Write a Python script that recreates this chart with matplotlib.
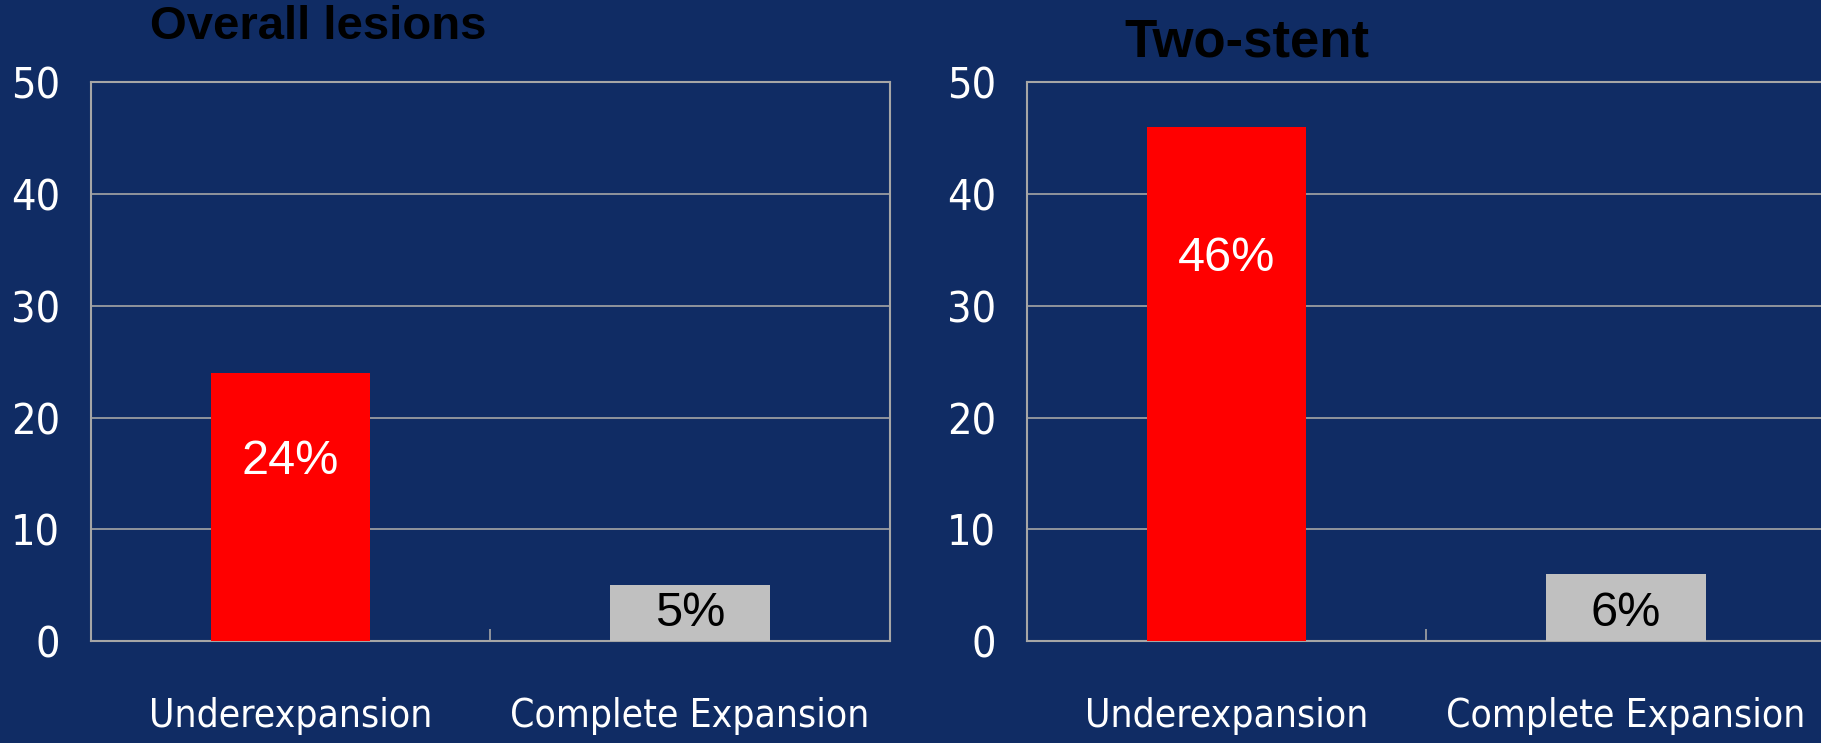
import matplotlib
matplotlib.use('Agg')
import matplotlib.pyplot as plt

# Data
categories = ['Underexpansion', 'Complete Expansion']
overall = [24, 5]
two_stent = [46, 6]
titles = ['Overall lesions', 'Two-stent']
yticks = [0, 10, 20, 30, 40, 50]

bg = '#102C64'
grid_col = '#A6A6A6'
regular = ['Liberation Sans', 'DejaVu Sans']

fig = plt.figure(figsize=(18.21, 7.43), dpi=100, facecolor=bg)

# (values, title, axes rect, label height fraction, title pos, title size)
panels = [
    (overall, titles[0], [0.0498, 0.1373, 0.4388, 0.7517], 0.67, (0.1749, 0.964), 34),
    (two_stent, titles[1], [0.5638, 0.1373, 0.4388, 0.7517], 0.745, (0.6845, 0.943), 38),
]

for vals, title, pos, frac, tpos, tsize in panels:
    ax = fig.add_axes(pos)
    ax.set_facecolor(bg)
    x = list(range(len(categories)))
    ax.bar(x, vals, width=0.4, color=['#FF0000', '#C0C0C0'], zorder=3)

    ax.set_ylim(0, 50)
    ax.set_xlim(-0.5, 1.5)
    ax.set_yticks(yticks)
    ax.set_yticklabels([str(t) for t in yticks], family='DejaVu Sans', stretch='condensed',
                       fontsize=31, color='white')
    ax.tick_params(axis='y', length=0, pad=22)
    ax.yaxis.grid(True, color=grid_col, linewidth=1.2, zorder=1)

    ax.set_xticks(x)
    ax.set_xticklabels(categories, family='DejaVu Sans', stretch='condensed',
                       fontsize=28, color='white')
    ax.tick_params(axis='x', which='major', length=0, pad=40)
    ax.set_xticks([-0.5, 0.5, 1.5], minor=True)
    ax.tick_params(axis='x', which='minor', direction='in', length=9, color=grid_col, width=1.2)

    for s in ax.spines.values():
        s.set_color(grid_col)
        s.set_linewidth(1.5)

    # value labels
    ax.text(0, vals[0] * frac, f'{vals[0]}%', ha='center', va='center',
            color='white', fontsize=35, family=regular, zorder=4)
    ax.text(1, 2.5, f'{vals[1]}%', ha='center', va='center',
            color='black', fontsize=35, family=regular, zorder=4)

    fig.text(tpos[0], tpos[1], title, ha='center', va='center',
             fontsize=tsize, fontweight='bold', family=regular, color='black')

fig.savefig('out.png', dpi=100, facecolor=bg)
